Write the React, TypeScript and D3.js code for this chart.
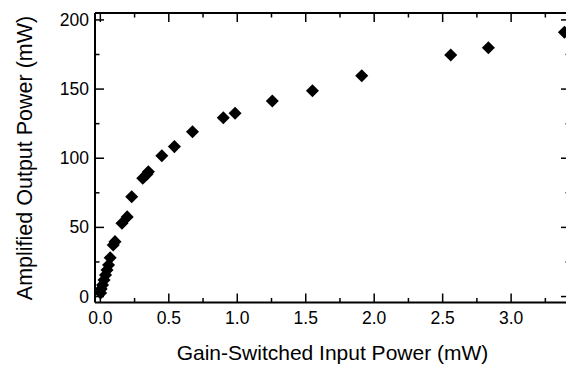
import React from "react";
import * as d3 from "d3";

const inputPower = [0.002, 0.006, 0.016, 0.027, 0.038, 0.049, 0.06, 0.072, 0.094, 0.107, 0.158, 0.196, 0.229, 0.31, 0.34, 0.351, 0.449, 0.541, 0.673, 0.898, 0.984, 1.256, 1.549, 1.909, 2.559, 2.834, 3.389];
const outputPower = [2.6, 5.5, 8.4, 12, 15.6, 19.2, 22.8, 28, 37.3, 39.7, 53, 57.6, 72.2, 85.5, 88.5, 90.3, 101.8, 108.4, 119.2, 129.3, 132.5, 141.4, 148.8, 159.7, 174.7, 179.9, 191.1];
const xTickLabels = ["0.0", "0.5", "1.0", "1.5", "2.0", "2.5", "3.0"];
const yTickLabels = ["0", "50", "100", "150", "200"];
const xTitle = "Gain-Switched Input Power (mW)";
const yTitle = "Amplified Output Power (mW)";

export default function App() {
  const W = 566, H = 365;
  const L = 95, R = 570, T = 13, B = 302.5;
  const x = d3.scaleLinear().domain([-0.039, 3.43]).range([L, R]);
  const y = d3.scaleLinear().domain([-4.3, 205]).range([B, T]);
  const xMajor = xTickLabels.map(Number);
  const xMinor = d3.range(0.25, 3.5, 0.5);
  const yMajor = yTickLabels.map(Number);
  const yMinor = d3.range(25, 200, 50);
  const diamond = d3.symbol(d3.symbolSquare, 85)()!;
  const font = "'Liberation Sans', Arial, Helvetica, sans-serif";
  const major = 9, minor = 4.5;
  return (
    <svg width={W} height={H} style={{ position: "absolute", left: 0, top: 0, background: "#fff" }}>
      <rect x={0} y={0} width={W} height={H} fill="#fff" />
      <g stroke="#000" strokeWidth={2} fill="none">
        <line x1={L} y1={T} x2={L} y2={B} />
        <line x1={L} y1={B} x2={R} y2={B} />
        <line x1={L} y1={T} x2={R} y2={T} />
        <line x1={R} y1={T} x2={R} y2={B} />
      </g>
      <g stroke="#000" strokeWidth={1.5}>
        {xMajor.map((v) => (
          <g key={"xm" + v}>
            <line x1={x(v)} x2={x(v)} y1={B} y2={B - major} />
            <line x1={x(v)} x2={x(v)} y1={T} y2={T + major} />
          </g>
        ))}
        {xMinor.map((v) => (
          <g key={"xn" + v}>
            <line x1={x(v)} x2={x(v)} y1={B} y2={B - minor} />
            <line x1={x(v)} x2={x(v)} y1={T} y2={T + minor} />
          </g>
        ))}
        {yMajor.map((v) => (
          <g key={"ym" + v}>
            <line x1={L} x2={L + major} y1={y(v)} y2={y(v)} />
            <line x1={R} x2={R - major} y1={y(v)} y2={y(v)} />
          </g>
        ))}
        {yMinor.map((v) => (
          <g key={"yn" + v}>
            <line x1={L} x2={L + minor} y1={y(v)} y2={y(v)} />
            <line x1={R} x2={R - minor} y1={y(v)} y2={y(v)} />
          </g>
        ))}
      </g>
      <g fontFamily={font} fontSize={17.5} fill="#000">
        {xTickLabels.map((t) => (
          <text key={"xt" + t} x={x(Number(t))} y={324} textAnchor="middle">{t}</text>
        ))}
        {yTickLabels.map((t) => (
          <text key={"yt" + t} x={89} y={y(Number(t)) + 6} textAnchor="end">{t}</text>
        ))}
      </g>
      <text x={332.5} y={359.5} textAnchor="middle" fontFamily={font} fontSize={21} fill="#000">{xTitle}</text>
      <text transform={`translate(31.5,158) rotate(-90)`} textAnchor="middle" fontFamily={font} fontSize={21.5} fill="#000">{yTitle}</text>
      <g fill="#000">
        {inputPower.map((v, i) => (
          <path key={"p" + i} d={diamond} transform={`translate(${x(v)},${y(outputPower[i])}) rotate(45)`} />
        ))}
      </g>
    </svg>
  );
}
